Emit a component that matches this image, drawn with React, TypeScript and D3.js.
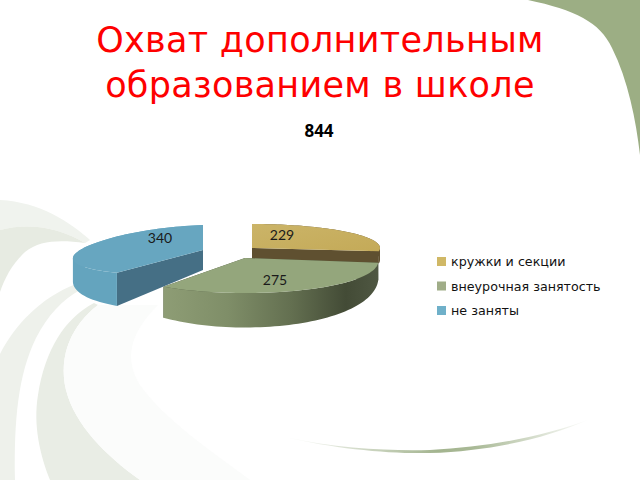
import React from "react";
import * as d3 from "d3";

const titleLines = ["Охват дополнительным", "образованием в школе"];
const chartTitle = "844";
const categories = ["кружки и секции", "внеурочная занятость", "не заняты"];
const values = [229, 275, 340];
const swatchColors = ["#d0b866", "#a0ad88", "#6fb0c9"];

const W = 640, H = 480;
const TAU = Math.PI * 2;

// projection of each exploded slice
const geom = [
  { cx: 252, cy: 248, rx: 128, ry: 24, kx: 0, shear: 0, d0: 12, dk: 0.1, lx: 30, ly: -13 },
  { cx: 245, cy: 258, rx: 133, ry: 35, kx: 0.08, shear: 0, d0: 15, dk: 1.3, lx: 30, ly: 22 },
  { cx: 203, cy: 250, rx: 128, ry: 25, kx: 0.18, shear: 4, d0: 20, dk: 0.8, lx: -43, ly: -12 },
];
const looks = [
  { top: "url(#tanTop)", wall: "#5f5030", start: "#5f5030", end: "#5f5030" },
  { top: "#94a67c", wall: "url(#greenWall)", start: "#4a523b", end: "#4a523b" },
  { top: "#67a6c0", wall: "#64a4be", start: "#456f85", end: "#62a2bc" },
];

type G = (typeof geom)[number];
type P = [number, number];
const pt = (g: G, a: number): P => {
  const u = Math.sin(a), v = -Math.cos(a);
  return [g.cx + (g.rx * u) / (1 - g.kx * v), g.cy + g.ry * v - g.shear * u];
};
const depthAt = (g: G, a: number) => g.d0 * (1 + g.dk * Math.max(0, -Math.cos(a)));
const lineGen = d3.line<P>().x((p) => p[0]).y((p) => p[1]);
const closed = (pts: P[]) => lineGen(pts)! + "Z";

function App() {
  const arcs = d3.pie<number>().sort(null).startAngle(0).endAngle(TAU)(values);
  const shapes = arcs.map((arc, i) => {
    const g = geom[i];
    const angles = d3.range(0, 61).map((k) => arc.startAngle + ((arc.endAngle - arc.startAngle) * k) / 60);
    const rim = angles.map((a) => pt(g, a));
    const rimLow = angles.map((a) => {
      const p = pt(g, a);
      return [p[0], p[1] + depthAt(g, a)] as P;
    });
    const apex: P = [g.cx, g.cy];
    const apexLow: P = [g.cx, g.cy + g.d0];
    const top = closed([apex, ...rim]);
    // wall is built from quads wound the same way, so it stays solid where the rim folds back
    const wall = d3.range(0, 60).map((k) => {
      const quad: P[] = [rim[k], rim[k + 1], rimLow[k + 1], rimLow[k]];
      return closed(d3.polygonArea(quad) < 0 ? quad.reverse() : quad);
    }).join("");
    const startFace = closed([apex, rim[0], rimLow[0], apexLow]);
    const endFace = closed([apex, rim[60], rimLow[60], apexLow]);
    return { top, wall, startFace, endFace, look: looks[i], g, value: values[i] };
  });

  const legendY = d3.scalePoint<string>().domain(categories).range([262, 311]);

  return (
    <svg width={W} height={H} viewBox={`0 0 ${W} ${H}`} style={{ position: "fixed", left: 0, top: 0, background: "#fff" }}>
      <defs>
        <linearGradient id="tanTop" x1="0" x2="1" y1="0" y2="1">
          <stop offset="0" stopColor="#cbb468" />
          <stop offset="1" stopColor="#c4aa58" />
        </linearGradient>
        <linearGradient id="greenWall" gradientUnits="userSpaceOnUse" x1="163" x2="378" y1="0" y2="0">
          <stop offset="0" stopColor="#8e9d75" />
          <stop offset="0.3" stopColor="#7f8e68" />
          <stop offset="0.6" stopColor="#636f50" />
          <stop offset="0.85" stopColor="#434b36" />
          <stop offset="1" stopColor="#4f5742" />
        </linearGradient>
        <linearGradient id="sweep" gradientUnits="userSpaceOnUse" x1="285" x2="590" y1="0" y2="0">
          <stop offset="0" stopColor="#ffffff" />
          <stop offset="0.5" stopColor="#a3b48f" />
          <stop offset="0.62" stopColor="#a9b996" />
          <stop offset="1" stopColor="#ffffff" />
        </linearGradient>
      </defs>

      {/* slide background */}
      <path d="M528 0C575 10 600 22 612 48C628 80 636 120 640 155L640 0Z" fill="#9cae84" />
      <path d="M0 200C40 202 70 222 90 240L85 243C60 228 30 222 0 230Z" fill="#f0f3ee" />
      <path d="M0 230C30 222 60 228 85 243C60 240 40 240 25 252C12 264 5 278 0 292Z" fill="#e7ebe2" />
      <path d="M76 284C40 298 15 325 0 354L0 480L15 480C14 420 18 375 36 338C48 315 62 300 80 290Z" fill="#eef1eb" />
      <path d="M94 303C65 318 45 350 38 395C33 425 40 455 50 480L140 480C105 455 75 425 66 390C58 355 72 325 98 305Z" fill="#e9ede5" />
      <path d="M98 305C72 325 58 355 66 390C75 425 105 455 140 480L250 480C210 450 165 420 140 385C125 360 128 335 158 305Z" fill="#fbfcfb" />
      <path d="M285 437C340 449 390 451 430 450C490 447 545 436 590 419C545 439 490 451 430 453C390 454 335 449 285 437Z" fill="url(#sweep)" />

      {/* title */}
      {titleLines.map((t, i) => (
        <text key={t} x={320} y={52 + i * 45} textAnchor="middle" fill="#fe0000"
          style={{ fontFamily: "'DejaVu Sans'", fontSize: 35, letterSpacing: 0.3 }}>{t}</text>
      ))}
      <text x={319} y={137} textAnchor="middle" fill="#000"
        style={{ fontFamily: "'Open Sans'", fontWeight: 700, fontSize: 17 }}>{chartTitle}</text>

      {/* pie */}
      {shapes.map((s, i) => (
        <g key={i}>
          <path d={s.endFace} fill={s.look.end} />
          <path d={s.startFace} fill={s.look.start} />
          <path d={s.wall} fill={s.look.wall} />
          <path d={s.top} fill={s.look.top} />
        </g>
      ))}
      {shapes.map((s, i) => (
        <text key={i} x={s.g.cx + s.g.lx} y={s.g.cy + s.g.ly + 5} textAnchor="middle" fill="#1a1a1a"
          style={{ fontFamily: "Lato", fontSize: 14 }}>{s.value}</text>
      ))}

      {/* legend */}
      {categories.map((c, i) => (
        <g key={c}>
          <rect x={437} y={legendY(c)! - 5} width={9} height={9} fill={swatchColors[i]} />
          <text x={451} y={legendY(c)! + 4} fill="#111"
            style={{ fontFamily: "'DejaVu Sans'", fontSize: 12.7 }}>{c}</text>
        </g>
      ))}
    </svg>
  );
}

export default App;
